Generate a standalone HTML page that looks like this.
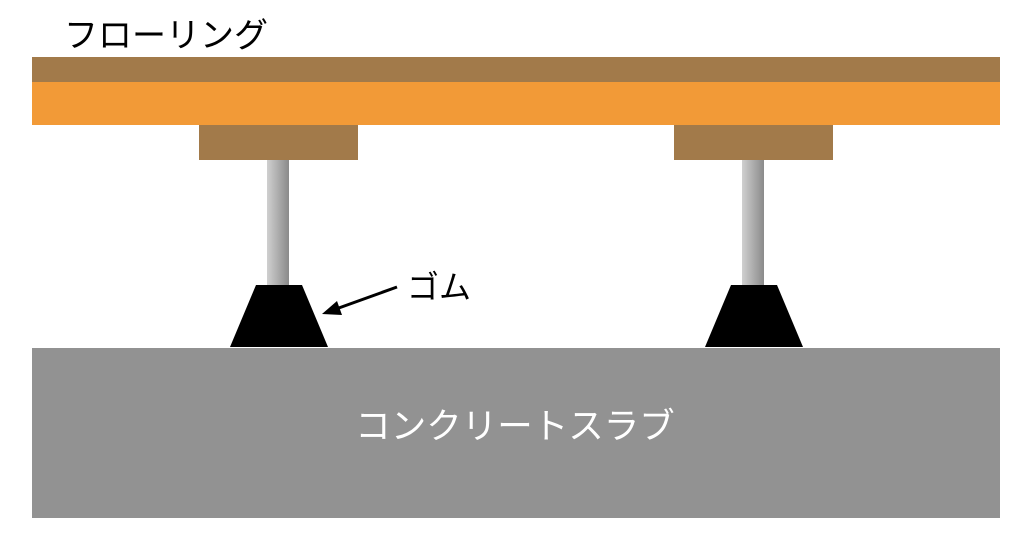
<!DOCTYPE html>
<html><head><meta charset="utf-8"><style>
body{margin:0;background:#fff;width:1024px;height:537px;overflow:hidden}
svg text{font-family:"Liberation Sans","Noto Sans CJK JP",sans-serif}
</style></head><body>
<svg width="1024" height="537" viewBox="0 0 1024 537">
<defs>
<linearGradient id="g" x1="0" x2="1"><stop offset="0" stop-color="#d0d0d0"/><stop offset="1" stop-color="#8a8a8a"/></linearGradient>
</defs>
<text x="64" y="47" font-size="34" fill="#000">フローリング</text>
<rect x="32" y="57" width="968" height="25" fill="#a27a4a"/>
<rect x="32" y="82" width="968" height="43" fill="#f29a37"/>
<rect x="199" y="125" width="159" height="35" fill="#a27a4a"/>
<rect x="674" y="125" width="159" height="35" fill="#a27a4a"/>
<rect x="267" y="160" width="22" height="126" fill="url(#g)"/>
<rect x="742" y="160" width="22" height="126" fill="url(#g)"/>
<polygon points="256,285 302,285 328,347 230,347" fill="#000"/>
<polygon points="731,285 777,285 803,347 705,347" fill="#000"/>
<rect x="32" y="348" width="968" height="170" fill="#929292"/>
<text x="515" y="438" font-size="35.5" fill="#fff" text-anchor="middle">コンクリートスラブ</text>
<text x="407" y="298" font-size="32" fill="#000">ゴム</text>
<line x1="397" y1="287" x2="336" y2="309" stroke="#000" stroke-width="3"/>
<polygon points="322,314 337,301 342,315" fill="#000"/>
</svg>
</body></html>
